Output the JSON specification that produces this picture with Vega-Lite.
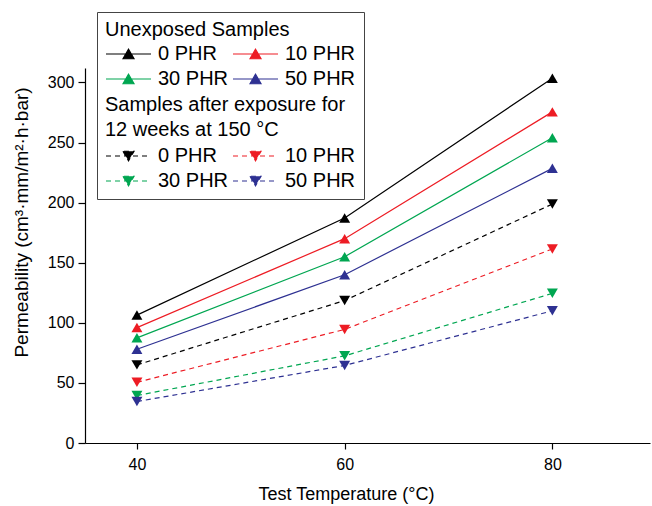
{
  "$schema": "https://vega.github.io/schema/vega-lite/v6.json",
  "width": 565,
  "height": 375,
  "autosize": "none",
  "padding": {"left": 85, "top": 68, "right": 2, "bottom": 63},
  "config": {
    "view": {"stroke": null},
    "font": "Liberation Sans",
    "axis": {
      "grid": false,
      "domainColor": "#000000",
      "tickColor": "#000000",
      "labelColor": "#000000",
      "titleColor": "#000000",
      "labelFontSize": 16,
      "titleFontSize": 18,
      "titleFontWeight": "normal",
      "domainWidth": 1.2,
      "tickWidth": 1.2
    },
    "legend": {
      "labelFontSize": 20,
      "titleFontSize": 20,
      "titleFontWeight": "normal",
      "labelColor": "#000000",
      "titleColor": "#000000",
      "titleLimit": 500,
      "labelLimit": 300
    }
  },
  "data": {
    "values": [
      {"t": 40, "p": 106.4, "phr": "0 PHR", "cond": "Unexposed"},
      {"t": 60, "p": 187.2, "phr": "0 PHR", "cond": "Unexposed"},
      {"t": 80, "p": 303.5, "phr": "0 PHR", "cond": "Unexposed"},
      {"t": 40, "p": 96.0, "phr": "10 PHR", "cond": "Unexposed"},
      {"t": 60, "p": 170.0, "phr": "10 PHR", "cond": "Unexposed"},
      {"t": 80, "p": 275.5, "phr": "10 PHR", "cond": "Unexposed"},
      {"t": 40, "p": 87.5, "phr": "30 PHR", "cond": "Unexposed"},
      {"t": 60, "p": 155.0, "phr": "30 PHR", "cond": "Unexposed"},
      {"t": 80, "p": 254.0, "phr": "30 PHR", "cond": "Unexposed"},
      {"t": 40, "p": 78.0, "phr": "50 PHR", "cond": "Unexposed"},
      {"t": 60, "p": 140.0, "phr": "50 PHR", "cond": "Unexposed"},
      {"t": 80, "p": 228.5, "phr": "50 PHR", "cond": "Unexposed"},
      {"t": 40, "p": 65.0, "phr": "0 PHR", "cond": "Exposed"},
      {"t": 60, "p": 118.5, "phr": "0 PHR", "cond": "Exposed"},
      {"t": 80, "p": 198.8, "phr": "0 PHR", "cond": "Exposed"},
      {"t": 40, "p": 50.5, "phr": "10 PHR", "cond": "Exposed"},
      {"t": 60, "p": 94.5, "phr": "10 PHR", "cond": "Exposed"},
      {"t": 80, "p": 161.5, "phr": "10 PHR", "cond": "Exposed"},
      {"t": 40, "p": 39.5, "phr": "30 PHR", "cond": "Exposed"},
      {"t": 60, "p": 72.5, "phr": "30 PHR", "cond": "Exposed"},
      {"t": 80, "p": 124.5, "phr": "30 PHR", "cond": "Exposed"},
      {"t": 40, "p": 34.5, "phr": "50 PHR", "cond": "Exposed"},
      {"t": 60, "p": 64.5, "phr": "50 PHR", "cond": "Exposed"},
      {"t": 80, "p": 110.0, "phr": "50 PHR", "cond": "Exposed"}
    ]
  },
  "encoding": {
    "x": {
      "field": "t",
      "type": "quantitative",
      "scale": {"domain": [35, 89.4], "nice": false, "zero": false},
      "axis": {
        "values": [40, 60, 80],
        "title": "Test Temperature (°C)",
        "tickSize": 6,
        "labelPadding": 7,
        "titleX": 261,
        "titleY": 56,
        "titleBaseline": "alphabetic",
        "titleAnchor": null
      }
    },
    "y": {
      "field": "p",
      "type": "quantitative",
      "scale": {"domain": [0, 312], "nice": false},
      "axis": {
        "values": [0, 50, 100, 150, 200, 250, 300],
        "title": "Permeability (cm³·mm/m²·h·bar)",
        "titleFontSize": 19,
        "tickSize": 7,
        "labelPadding": 4,
        "titleX": -58,
        "titleY": 154,
        "titleAngle": -90,
        "titleBaseline": "alphabetic",
        "titleAlign": "center"
      }
    }
  },
  "layer": [
    {
      "transform": [{"filter": "datum.cond === 'Exposed'"}],
      "mark": {
        "type": "line",
        "strokeWidth": 1.2,
        "strokeDash": [5, 4],
        "point": {"shape": "triangle-down", "size": 120, "filled": true, "opacity": 1}
      },
      "encoding": {
        "color": {
          "field": "phr",
          "type": "nominal",
          "scale": {
            "domain": ["0 PHR", "10 PHR", "30 PHR", "50 PHR"],
            "range": ["#000000", "#ed1c24", "#00a651", "#2e3192"]
          },
          "legend": {
            "orient": "none",
            "direction": "horizontal",
            "legendX": 12,
            "legendY": -56,
            "title": ["\u200b", "\u200b", "\u200b", "Samples after exposure for", "12 weeks at 150 °C"],
            "titleLineHeight": 25,
            "titleBaseline": "top",
            "titlePadding": 5,
            "columns": 2,
            "columnPadding": 1,
            "rowPadding": 4,
            "padding": 8,
            "strokeColor": "#444444",
            "symbolType": "M-1,0H3.5M0.7,-0.475L1.25,0.475L1.8,-0.475Z",
            "symbolSize": 400,
            "symbolStrokeWidth": 1.2,
            "symbolDash": [5, 4],
            "labelOffset": 31,
            "encode": {
              "symbols": {
                "update": {
                  "fill": {"signal": "['#000000','#ed1c24','#00a651','#2e3192'][indexof(['0 PHR','10 PHR','30 PHR','50 PHR'], datum.value)]"},
                  "stroke": {"signal": "['#000000','#ed1c24','#00a651','#2e3192'][indexof(['0 PHR','10 PHR','30 PHR','50 PHR'], datum.value)]"},
                  "opacity": {"value": 1}
                }
              }
            }
          }
        }
      }
    },
    {
      "transform": [{"filter": "datum.cond === 'Unexposed'"}],
      "mark": {
        "type": "line",
        "strokeWidth": 1.2,
        "point": {"shape": "triangle-up", "size": 120, "filled": true, "opacity": 1}
      },
      "encoding": {
        "color": {
          "field": "phr",
          "type": "nominal",
          "scale": {
            "domain": ["0 PHR", "10 PHR", "30 PHR", "50 PHR"],
            "range": ["#000000", "#ed1c24", "#00a651", "#2e3192"]
          },
          "legend": {
            "orient": "none",
            "direction": "horizontal",
            "legendX": 12,
            "legendY": -56,
            "title": "Unexposed Samples",
            "titlePadding": 3,
            "columns": 2,
            "columnPadding": 1,
            "rowPadding": 4,
            "padding": 8,
            "symbolType": "M-1,0H3.5M0.7,0.475L1.25,-0.475L1.8,0.475Z",
            "symbolSize": 400,
            "symbolStrokeWidth": 1.2,
            "labelOffset": 31,
            "encode": {
              "symbols": {
                "update": {
                  "fill": {"signal": "['#000000','#ed1c24','#00a651','#2e3192'][indexof(['0 PHR','10 PHR','30 PHR','50 PHR'], datum.value)]"},
                  "stroke": {"signal": "['#000000','#ed1c24','#00a651','#2e3192'][indexof(['0 PHR','10 PHR','30 PHR','50 PHR'], datum.value)]"},
                  "opacity": {"value": 1}
                }
              }
            }
          }
        }
      }
    }
  ],
  "resolve": {"scale": {"color": "independent"}}
}
